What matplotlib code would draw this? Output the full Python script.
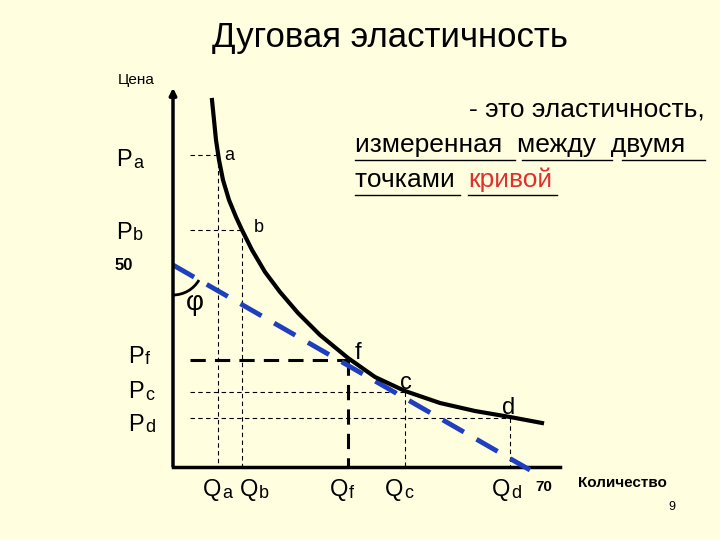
import matplotlib
matplotlib.use("Agg")
import matplotlib.pyplot as plt
import numpy as np
from matplotlib.patches import Arc

plt.rcParams['font.family'] = ['Liberation Sans', 'DejaVu Sans']
BG = '#FFFFE0'

# demand curve points (screen coords, y down)
curve_x = [212, 214, 216, 219, 223, 229, 236, 242, 252, 265, 280, 298, 320, 348, 375, 405, 440, 475, 510, 542]
curve_y = [100, 120, 140, 160, 180, 200, 217, 230, 250, 272, 292, 313, 335, 358, 377, 391, 403, 411, 417, 423]
tangent_x = [173, 530]
tangent_y = [265, 470]
points = {'a': (218, 155), 'b': (242, 230), 'f': (348, 360), 'c': (405, 392), 'd': (510, 418)}

fig = plt.figure(figsize=(7.2, 5.4), dpi=100, facecolor=BG)
ax = fig.add_axes([0, 0, 1, 1])
ax.set_facecolor(BG)
ax.set_xlim(0, 720); ax.set_ylim(540, 0); ax.axis('off')

ax.annotate('', xy=(173, 85), xytext=(173, 469), arrowprops=dict(arrowstyle='-|>', lw=2.5, color='black', mutation_scale=10))
ax.plot([173, 560], [467, 467], color='black', lw=2.5)

for k in ['a', 'b', 'c', 'd']:
    x, y = points[k]
    ax.plot([190, x], [y, y], ls=(0, (4, 3)), lw=0.8, color='black')
    ax.plot([x, x], [y, 467], ls=(0, (4, 3)), lw=0.8, color='black')
fx, fy = points['f']
ax.plot([190, fx], [fy, fy], ls=(0, (5, 3)), lw=2.2, color='black')
ax.plot([fx, fx], [fy, 467], ls=(0, (5, 3)), lw=2.2, color='black')

ax.plot(tangent_x, tangent_y, ls=(0, (5, 3)), lw=3.5, color='#1f3fbf')
ax.plot(curve_x, curve_y, color='black', lw=3, solid_joinstyle='round')
ax.add_patch(Arc((173, 265), 60, 60, theta1=30, theta2=90, lw=2, color='black'))

ax.text(390, 38, 'Дуговая эластичность', fontsize=25, ha='center', va='center')
ax.text(118, 80, 'Цена', fontsize=11, ha='left', va='center')
ax.text(578, 483, 'Количество', fontsize=11, fontweight='bold', ha='left', va='center')
ax.text(672, 507, '9', fontsize=9, ha='center', va='center')

def plab(x, y, main, sub):
    ax.text(x, y, main, fontsize=17, ha='left', va='center')
    ax.text(x + 17, y + 3, sub, fontsize=13, ha='left', va='center')

plab(116, 160, 'P', 'a'); plab(116, 233, 'P', 'b')
ax.text(115, 265, '50', fontsize=12, fontweight='bold', ha='left', va='center')
plab(128, 357, 'P', 'f'); plab(128, 392, 'P', 'c'); plab(128, 425, 'P', 'd')
for x, m, s in [(203, 'Q', 'a'), (240, 'Q', 'b'), (330, 'Q', 'f'), (385, 'Q', 'c'), (492, 'Q', 'd')]:
    ax.text(x, 490, m, fontsize=17, ha='left', va='center')
    ax.text(x + 19, 493, s, fontsize=13, ha='left', va='center')
ax.text(535, 487, '70', fontsize=11, fontweight='bold', ha='left', va='center')

ax.text(224, 155, 'a', fontsize=13, va='center')
ax.text(254, 228, 'b', fontsize=13, va='center')
ax.text(355, 353, 'f', fontsize=17, va='center')
ax.text(400, 383, 'c', fontsize=17, va='center')
ax.text(502, 408, 'd', fontsize=17, va='center')
ax.text(186, 303, 'φ', fontsize=20, va='center')

ax.text(705, 110, '- это эластичность,', fontsize=19, ha='right', va='center')
ax.text(355, 145, 'измеренная  между  двумя', fontsize=19, ha='left', va='center')
ax.text(355, 180, 'точками ', fontsize=19, ha='left', va='center')
ax.text(468, 180, 'кривой', fontsize=19, ha='left', va='center', color='#e03030')
for (x0, x1, y) in [(355, 515, 160), (522, 612, 160), (622, 705, 160), (355, 460, 195), (468, 557, 195)]:
    ax.plot([x0, x1], [y, y], color='black', lw=1)

fig.savefig('out.png', dpi=100, facecolor=BG)
